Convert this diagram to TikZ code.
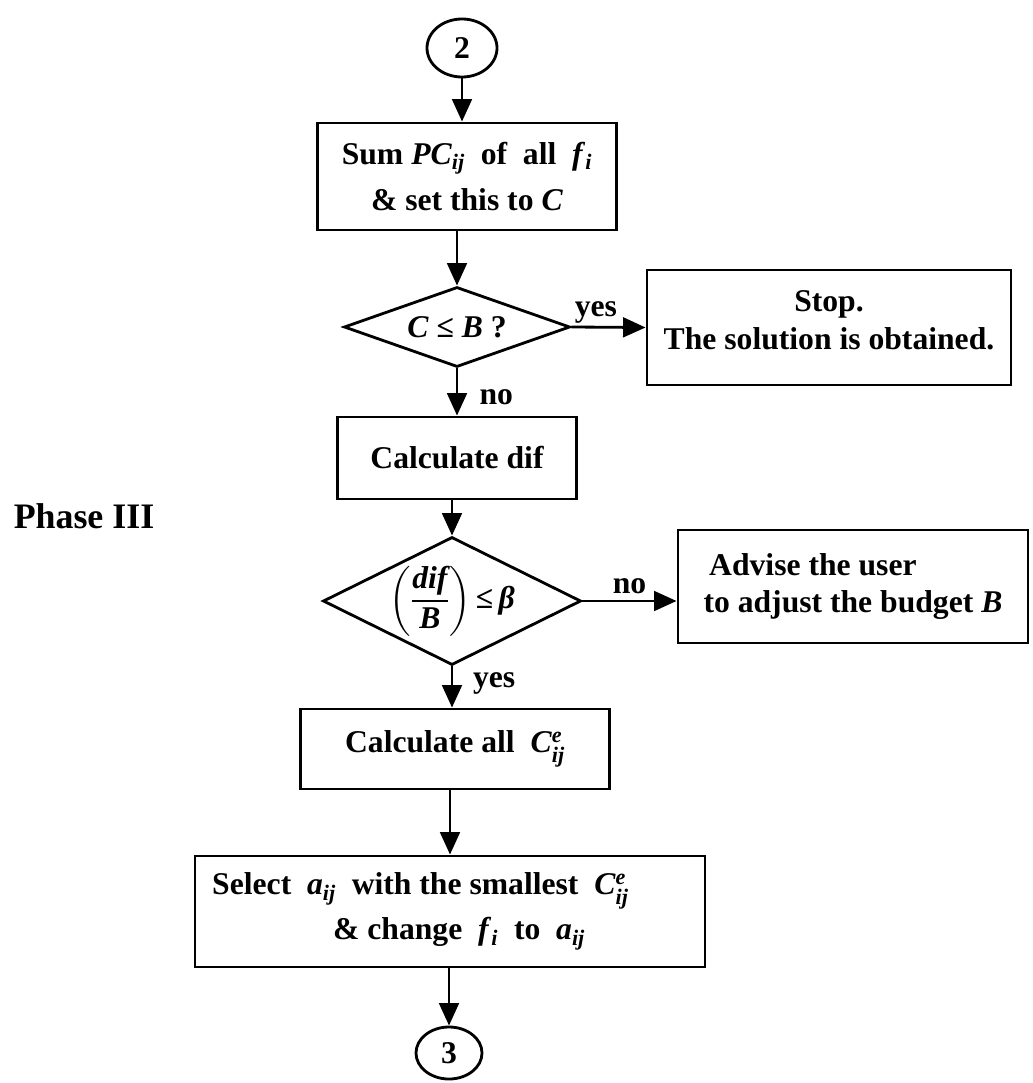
\documentclass[tikz,border=0pt]{standalone}
\usepackage{amsmath}
\usepackage{fontspec}
\setmainfont{Liberation Serif}
\usepackage{tikz}
\usetikzlibrary{shapes.geometric}
\usetikzlibrary{arrows.meta}
\usetikzlibrary{calc}

\begin{document}
\begin{tikzpicture}[x=0.025cm,y=-0.025cm,
	font=\fontsize{22.5}{27}\selectfont\bfseries,
	line width=2pt,
	>={Triangle[length=16pt,width=14pt]},
	stepbox/.style={draw,rectangle,inner sep=0pt,align=center},
	test/.style={draw,diamond,inner sep=0pt,align=center},
	conn/.style={draw,ellipse,inner sep=0pt,minimum width=1.75cm,minimum height=1.45cm}]
	\useasboundingbox (0,0) rectangle (1032,1083);
	\node [conn] (c2) at (462,48) {2};
	\node [stepbox,minimum width=7.475cm,minimum height=2.675cm] (sum) at (467,176.5) {Sum \textit{PC}$_{\textit{ij}}$\ \ of\ \ all\ \ \textit{f}$_{\textit{i}}$\\[6pt]\& set this to \textit{C}};
	\node [test,aspect=2.8,minimum width=5.65cm,minimum height=2cm] (cb) at (457,327) {\textit{C} ≤ \textit{B} ?};
	\node [stepbox,minimum width=9.1cm,minimum height=2.875cm] (stop) at (829,327.5) {\raisebox{-2pt}[0pt][0pt]{\begin{tabular}{@{}c@{}}Stop.\\The solution is obtained.\end{tabular}}};
	\node [stepbox,minimum width=5.975cm,minimum height=2.05cm] (dif) at (457,458) {Calculate dif};
	\node [test,aspect=2,inner sep=-6pt,minimum width=6.45cm,minimum height=3.2cm] (ratio) at (452,601) {$\left(\dfrac{\textit{dif}}{\textit{B}}\right)$\,≤\,\textit{β}};
	\node [stepbox,align=left,minimum width=8.75cm,minimum height=2.825cm] (adv) at (853,586.5) {\rule{4pt}{0pt}Advise the user\\to adjust the budget \textit{B}};
	\node [stepbox,minimum width=7.725cm,minimum height=2cm] (ce) at (455,749) {Calculate all\ \ \textit{C}$^{\textit{e}}_{\textit{ij}}$};
	\node [stepbox,align=left,minimum width=12.75cm,minimum height=2.775cm] (sel) at (450,911.5) {Select\ \ \textit{a}$_{\textit{ij}}$\ \ with the smallest\ \ \textit{C}$^{\textit{e}}_{\textit{ij}}$\rule{42pt}{0pt}\\[5pt]\rule{86pt}{0pt}\& change\ \ \textit{f}$_{\textit{i}}$\ \ to\ \ \textit{a}$_{\textit{ij}}$};
	\node [conn,minimum width=1.65cm,minimum height=1.3cm] (c3) at (449,1053) {3};
	\node (phase) at (84,516) {\fontsize{25.5}{30}\selectfont Phase III};
	\draw [->] (c2.south) -- (c2.south |- sum.north);
	\draw [->] (cb.north |- sum.south) -- (cb.north);
	\draw [->] (cb.east) -- node [pos=0.33,above,inner sep=2pt] (lyes1) {yes} (stop.west);
	\draw [->] (cb.south) -- node [pos=0.62,right=15pt,inner sep=0pt] (lno1) {no} (dif.north);
	\draw [->] (ratio.north |- dif.south) -- (ratio.north);
	\draw [->] (ratio.east) -- node [pos=0.5,above,inner sep=4pt] (lno2) {no} (ratio.east -| adv.west);
	\draw [->] (ratio.south) -- node [pos=0.42,right=14pt,inner sep=0pt] (lyes2) {yes} (ratio.south |- ce.north);
	\draw [->] (sel.north |- ce.south) -- (sel.north);
	\draw [->] (c3.north |- sel.south) -- (c3.north);
\end{tikzpicture}
\end{document}
